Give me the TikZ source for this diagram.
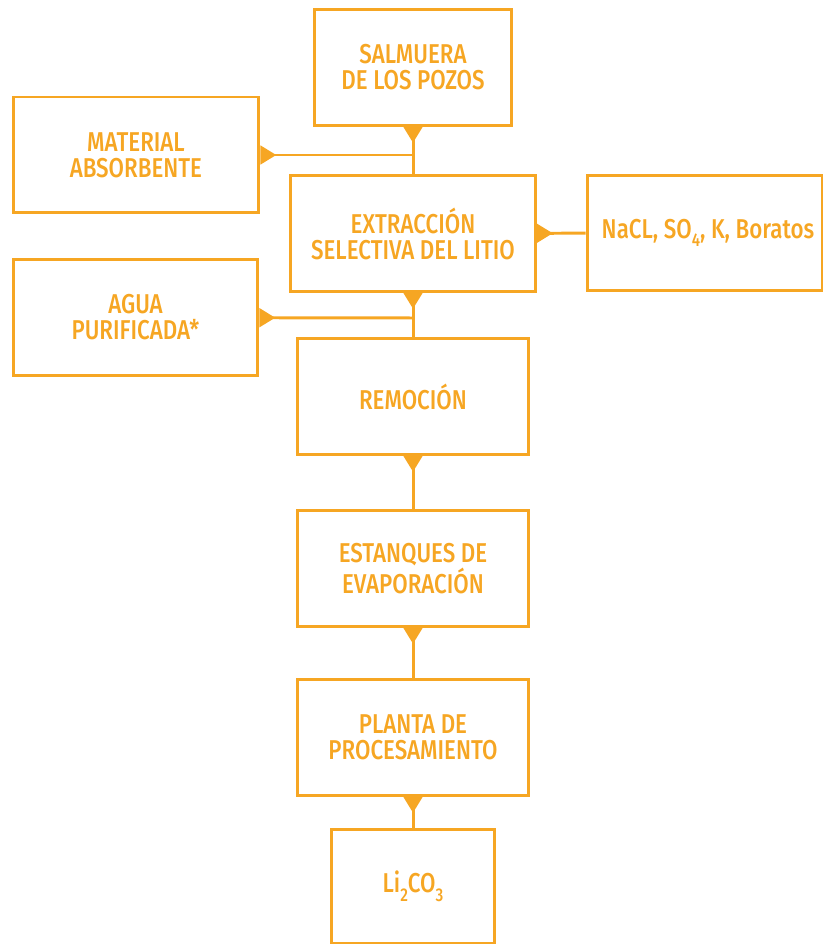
\documentclass[tikz,border=0pt]{standalone}
\usepackage{fontspec}
\setmainfont{Fira Sans}[UprightFont=* Medium,FakeStretch=0.82]
\usetikzlibrary{arrows.meta}
\definecolor{ambar}{RGB}{246,166,35}
\newcommand{\subind}[1]{\raisebox{-0.32em}{\fontsize{10.5}{10.5}\selectfont #1}}

\begin{document}
\begin{tikzpicture}[x=0.02cm,y=-0.02cm,line width=1.7pt,color=ambar,
        conector/.style={{Triangle[reversed,width=10.5pt,length=9pt]}-,draw,line width=1.7pt},
        caja/.style={shape=rectangle,draw=ambar,align=center,inner sep=0pt,minimum width=#1,minimum height=2.32cm,font=\fontsize{15.5}{14.8}\selectfont}]
                \useasboundingbox (0, 0) rectangle (824, 945);
                \node[caja=3.96cm](salmuera)at(413, 67.5){SALMUERA\\DE LOS POZOS};
                \node[caja=4.92cm](material)at(136, 155){MATERIAL\\ABSORBENTE};
                \node[caja=4.9cm](extraccion)at(413, 233.5){EXTRACCIÓN\\SELECTIVA DEL LITIO};
                \node[caja=4.7cm](sales)at(704.5, 233){\hspace*{4pt}NaCL, SO\subind{4}, K, Boratos};
                \node[caja=4.9cm](agua)at(135.5, 317.5){AGUA\\PURIFICADA*};
                \node[caja=4.64cm](remocion)at(413, 396.5){REMOCIÓN};
                \node[caja=4.64cm](estanques)at(413, 568.5){ESTANQUES DE\\EVAPORACIÓN};
                \node[caja=4.64cm](planta)at(413, 737.5){PLANTA DE\\PROCESAMIENTO};
                \node[caja=3.26cm,minimum height=2.28cm](carbonato)at(413, 886){Li\subind{2}CO\subind{3}};
                \coordinate(union1)at(413, 155);
                \coordinate(union2)at(413, 318);
                \draw[conector](salmuera) -- (extraccion);
                \draw[conector](material) -- (union1);
                \draw[conector](extraccion) -- (sales);
                \draw[conector](extraccion) -- (remocion);
                \draw[conector](agua) -- (union2);
                \draw[conector](remocion) -- (estanques);
                \draw[conector](estanques) -- (planta);
                \draw[conector](planta) -- (carbonato);
            \end{tikzpicture}
\end{document}
